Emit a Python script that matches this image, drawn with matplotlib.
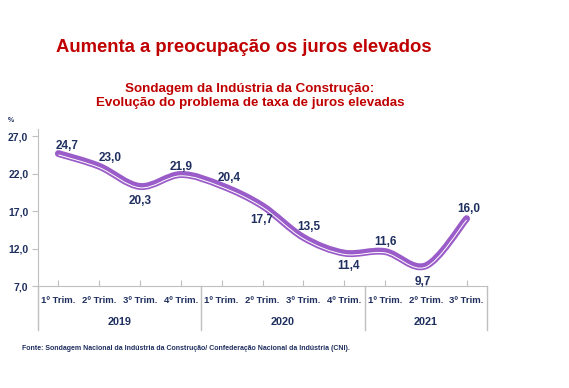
import matplotlib
matplotlib.use("Agg")
import matplotlib.pyplot as plt
from matplotlib.path import Path
from matplotlib.patches import PathPatch
from matplotlib import transforms

# Data
quarters = ["1º Trim.", "2º Trim.", "3º Trim.", "4º Trim.",
            "1º Trim.", "2º Trim.", "3º Trim.", "4º Trim.",
            "1º Trim.", "2º Trim.", "3º Trim."]
years = ["2019", "2020", "2021"]
year_sizes = [4, 4, 3]
values = [24.7, 23.0, 20.3, 21.9, 20.4, 17.7, 13.5, 11.4, 11.6, 9.7, 16.0]
value_labels = ["24,7", "23,0", "20,3", "21,9", "20,4", "17,7",
                "13,5", "11,4", "11,6", "9,7", "16,0"]
y_ticks = [7.0, 12.0, 17.0, 22.0, 27.0]

# label offsets in pixels (dx, dy)
label_offsets = [(9, 8), (11, 8), (0, -15), (0, 8), (7, 8), (-1, -14),
                 (5, 10), (4, -13), (0, 10), (-3, -16), (2, 10)]

plt.rcParams["font.family"] = ["Liberation Sans", "DejaVu Sans"]

red = "#C00000"
navy = "#1F2F5F"
purple = "#9A5CC8"
grid_gray = "#BFBFBF"

fig = plt.figure(figsize=(5.69, 3.88), dpi=100)
ax = fig.add_axes([38 / 569, 1 - 286 / 388, (487 - 38) / 569, (286 - 128.5) / 388])

x = list(range(len(values)))

# smooth curve through the points (cubic Bezier, Catmull-Rom style)
verts = [(x[0], values[0])]
codes = [Path.MOVETO]
n = len(values)
for i in range(n - 1):
    p0 = (x[max(i - 1, 0)], values[max(i - 1, 0)])
    p1 = (x[i], values[i])
    p2 = (x[i + 1], values[i + 1])
    p3 = (x[min(i + 2, n - 1)], values[min(i + 2, n - 1)])
    c1 = (p1[0] + (p2[0] - p0[0]) / 6, p1[1] + (p2[1] - p0[1]) / 6)
    c2 = (p2[0] - (p3[0] - p1[0]) / 6, p2[1] - (p3[1] - p1[1]) / 6)
    verts += [c1, c2, p2]
    codes += [Path.CURVE4] * 3
path = Path(verts, codes)

ax.add_patch(PathPatch(path, facecolor="none", edgecolor=purple, lw=5,
                       capstyle="round", joinstyle="round", zorder=3))
shift = transforms.offset_copy(ax.transData, fig=fig, x=0, y=-1.3, units="dots")
ax.add_patch(PathPatch(path, facecolor="none", edgecolor="white", lw=0.7,
                       transform=shift, zorder=4))

for xi, v, lab, (dx, dy) in zip(x, values, value_labels, label_offsets):
    ax.annotate(lab, (xi, v), xytext=(dx, dy), textcoords="offset pixels",
                ha="center", va="center", fontsize=8.5, fontweight="bold",
                color=navy)

ax.set_xlim(-0.5, n - 0.5)
ax.set_ylim(7, 28.05)
ax.set_yticks(y_ticks)
ax.set_yticklabels([f"{t:.1f}".replace(".", ",") for t in y_ticks])
ax.set_xticks(x)
ax.set_xticklabels([])
ax.tick_params(axis="x", direction="in", length=4, color=grid_gray)
ax.tick_params(axis="y", direction="out", length=4, color=grid_gray,
               labelsize=7.5, labelcolor=navy, pad=3)
for t in ax.get_yticklabels():
    t.set_fontweight("bold")

for s in ["top", "right"]:
    ax.spines[s].set_visible(False)
ax.spines["left"].set_color(grid_gray)
ax.spines["bottom"].set_color(grid_gray)

# category labels and year groups below the axis
xt = ax.get_xaxis_transform()
for xi, q in zip(x, quarters):
    ax.text(xi, -0.09, q, transform=xt, ha="center", va="center",
            fontsize=6.8, fontweight="bold", color=navy, clip_on=False)

start = 0
bounds = [-0.5]
for yr, size in zip(years, year_sizes):
    ax.text(start + (size - 1) / 2, -0.23, yr, transform=xt, ha="center",
            va="center", fontsize=7.8, fontweight="bold", color=navy, clip_on=False)
    start += size
    bounds.append(start - 0.5)
for b in bounds:
    ax.plot([b, b], [0, -0.28], transform=xt, color=grid_gray, lw=1, clip_on=False)

ax.text(-0.06, 1.04, "%", transform=ax.transAxes, fontsize=5, fontweight="bold",
        color=navy, ha="center")

fig.text(244 / 569, 1 - 47 / 388, "Aumenta a preocupação os juros elevados",
         ha="center", va="center", fontsize=13.3, fontweight="bold", color=red)
fig.text(250 / 569, 1 - 96 / 388,
         "Sondagem da Indústria da Construção:\nEvolução do problema de taxa de juros elevadas",
         ha="center", va="center", fontsize=9.6, fontweight="bold", color=red,
         linespacing=1.3)
fig.text(22 / 569, 1 - 348 / 388,
         "Fonte: Sondagem Nacional da Indústria da Construção/ Confederação Nacional da Indústria (CNI).",
         ha="left", va="center", fontsize=5, fontweight="bold", color=navy)

fig.savefig("out.png", dpi=100)
